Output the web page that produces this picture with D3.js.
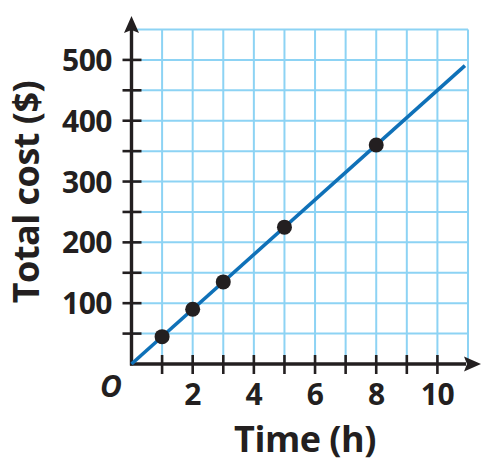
<!DOCTYPE html>
<meta charset="utf-8">
<style>
body { margin: 0; background: #fff; }
text { font-family: "Open Sans", sans-serif; font-weight: 700; fill: #231f20; }
</style>
<body>
<script src="https://cdn.jsdelivr.net/npm/d3@7"></script>
<script>
// data
var hours = [1, 2, 3, 5, 8];
var costs = [45, 90, 135, 225, 360];
var lineEnd = [10.9, 490.5];
var xTickLabels = [2, 4, 6, 8, 10];
var yTickLabels = [100, 200, 300, 400, 500];

var width = 499, height = 465;

var x = d3.scaleLinear().domain([0, 11]).range([131.5, 468]);
var y = d3.scaleLinear().domain([0, 550]).range([364, 29.5]);

var svg = d3.select("body").append("svg")
    .attr("width", width)
    .attr("height", height);

var ink = "#231f20";

// grid
var grid = svg.append("g")
    .attr("stroke", "#8dd3f4")
    .attr("stroke-width", 2);

grid.selectAll(".vg")
    .data(d3.range(1, 12))
  .enter().append("line")
    .attr("x1", function(d) { return x(d); })
    .attr("x2", function(d) { return x(d); })
    .attr("y1", y(0))
    .attr("y2", y(550));

grid.selectAll(".hg")
    .data(d3.range(50, 551, 50))
  .enter().append("line")
    .attr("x1", x(0))
    .attr("x2", x(11))
    .attr("y1", function(d) { return y(d); })
    .attr("y2", function(d) { return y(d); });

// axes
svg.append("line")
    .attr("x1", x(0)).attr("x2", x(0))
    .attr("y1", y(0) + 1.5).attr("y2", 30)
    .attr("stroke", ink).attr("stroke-width", 3.4);

svg.append("line")
    .attr("x1", x(0) - 1.5).attr("x2", 466)
    .attr("y1", y(0)).attr("y2", y(0))
    .attr("stroke", ink).attr("stroke-width", 3.4);

// arrow heads
var ax = x(0), ay = y(0);
svg.append("path")
    .attr("d", "M" + ax + ",16 L" + (ax + 7.5) + ",33 L" + ax + ",30 L" + (ax - 7.5) + ",33 Z")
    .attr("fill", ink);
svg.append("path")
    .attr("d", "M481," + ay + " L464," + (ay - 7.5) + " L467," + ay + " L464," + (ay + 7.5) + " Z")
    .attr("fill", ink);

// tick marks
svg.selectAll(".xt")
    .data(d3.range(1, 11))
  .enter().append("line")
    .attr("x1", function(d) { return x(d); })
    .attr("x2", function(d) { return x(d); })
    .attr("y1", y(0) - 9)
    .attr("y2", y(0) + 10)
    .attr("stroke", ink).attr("stroke-width", 2.6);

svg.selectAll(".yt")
    .data(d3.range(50, 501, 50))
  .enter().append("line")
    .attr("x1", x(0) - 9)
    .attr("x2", x(0) + 10)
    .attr("y1", function(d) { return y(d); })
    .attr("y2", function(d) { return y(d); })
    .attr("stroke", ink).attr("stroke-width", 2.6);

// tick labels
svg.selectAll(".xl")
    .data(xTickLabels)
  .enter().append("text")
    .attr("x", function(d) { return x(d); })
    .attr("y", 405)
    .attr("text-anchor", "middle")
    .attr("font-size", 30)
    .attr("letter-spacing", -0.5)
    .text(function(d) { return d; });

svg.selectAll(".yl")
    .data(yTickLabels)
  .enter().append("text")
    .attr("x", 112)
    .attr("y", function(d) { return y(d) + 11; })
    .attr("text-anchor", "end")
    .attr("font-size", 30)
    .attr("letter-spacing", -0.5)
    .text(function(d) { return d; });

svg.append("text")
    .attr("x", 111)
    .attr("y", 397)
    .attr("text-anchor", "middle")
    .attr("font-size", 30)
    .attr("font-style", "italic")
    .text("O");

// axis titles
svg.append("text")
    .attr("x", 305)
    .attr("y", 452)
    .attr("text-anchor", "middle")
    .attr("font-size", 36)
    .attr("letter-spacing", -0.5)
    .text("Time (h)");

svg.append("text")
    .attr("transform", "translate(39,192) rotate(-90)")
    .attr("text-anchor", "middle")
    .attr("font-size", 36)
    .attr("letter-spacing", -0.5)
    .text("Total cost ($)");

// line and points
svg.append("line")
    .attr("x1", x(0)).attr("y1", y(0))
    .attr("x2", x(lineEnd[0])).attr("y2", y(lineEnd[1]))
    .attr("stroke", "#0f71b8").attr("stroke-width", 3.6);

svg.selectAll(".pt")
    .data(hours)
  .enter().append("circle")
    .attr("cx", function(d) { return x(d); })
    .attr("cy", function(d, i) { return y(costs[i]); })
    .attr("r", 7.5)
    .attr("fill", ink);
</script>
</body>
